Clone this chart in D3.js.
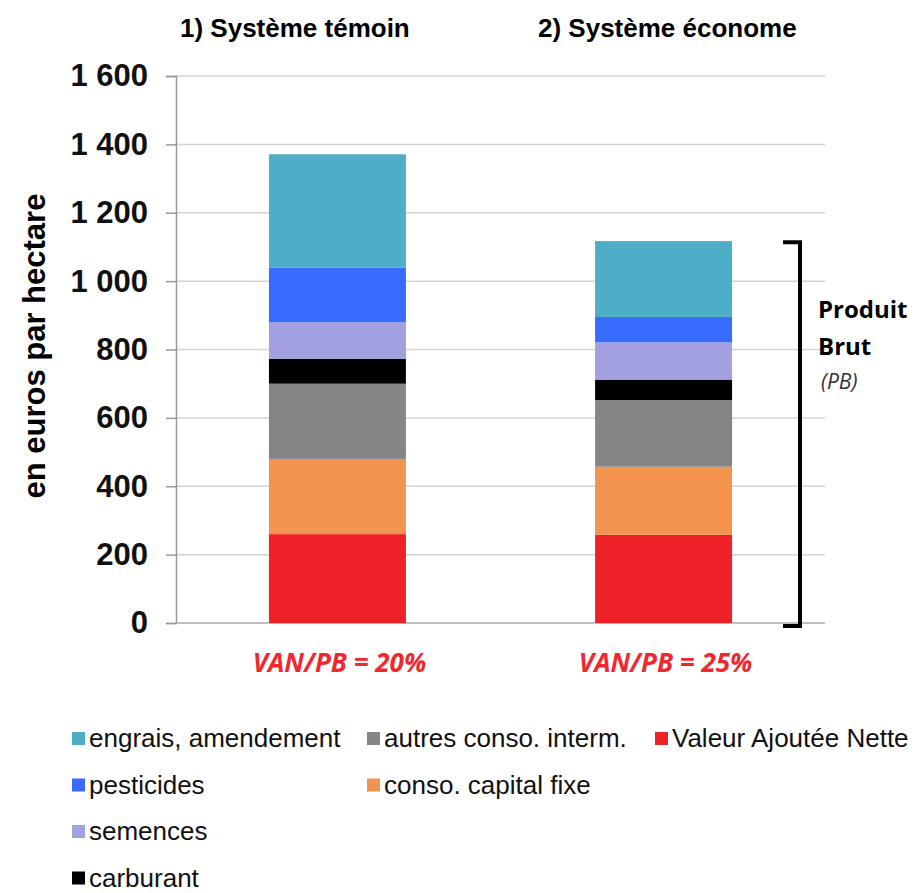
<!DOCTYPE html>
<html>
<head>
<meta charset="utf-8">
<script src="https://cdn.jsdelivr.net/npm/d3@7"></script>
<style>
  body { margin: 0; background: #fff; }
  svg { display: block; }
</style>
</head>
<body>
<div id="chart"></div>
<script>
// donnees (euros / ha)
var systemes = ['1) Système témoin', '2) Système économe']
var postes = ['Valeur Ajoutée Nette', 'conso. capital fixe', 'autres conso. interm.',
              'carburant', 'semences', 'pesticides', 'engrais, amendement']
var temoin = [260, 220, 220, 73, 107, 159, 332]
var econome = [258, 199, 195, 60, 109, 74, 222]
var ratios = ['VAN/PB = 20%', 'VAN/PB = 25%']
var yTicks = [0, 200, 400, 600, 800, 1000, 1200, 1400, 1600]

var couleurs = ['#ee2129', '#f29450', '#858585', '#000000', '#a3a0df', '#3a6bff', '#4eaec7']

var w = 916, h = 893

var svg = d3.select('#chart')
  .append('svg')
  .attr('width', w)
  .attr('height', h)

var y = d3.scaleLinear()
  .domain([0, 1600])
  .range([623, 76])

var x = d3.scaleBand()
  .domain(systemes)
  .range([176, 825])
  .paddingInner(0.58)
  .paddingOuter(0.285)

// grille
svg.append('g')
  .selectAll('line')
  .data(yTicks.slice(1))
  .enter().append('line')
  .attr('x1', 176).attr('x2', 825)
  .attr('y1', function(d) { return y(d) })
  .attr('y2', function(d) { return y(d) })
  .attr('stroke', '#d4d4d4')
  .attr('stroke-width', 1.5)

// axe y
var yAxis = d3.axisLeft(y)
  .tickValues(yTicks)
  .tickSize(10)
  .tickPadding(18)
  .tickFormat(function(d) { return d >= 1000 ? Math.floor(d / 1000) + ' ' + d3.format('03d')(d % 1000) : d })

var gy = svg.append('g')
  .attr('transform', 'translate(176,0)')
  .call(yAxis)
gy.select('.domain').attr('stroke', '#999').attr('stroke-width', 1.5)
gy.selectAll('.tick line').attr('stroke', '#999').attr('stroke-width', 1.5)
gy.selectAll('text')
  .attr('fill', '#111')
  .style('font-family', 'Liberation Sans, Arial, sans-serif')
  .style('font-size', '31px')
  .style('font-weight', 'bold')

// ligne de base
svg.append('line')
  .attr('x1', 176).attr('x2', 825)
  .attr('y1', y(0)).attr('y2', y(0))
  .attr('stroke', '#aaa').attr('stroke-width', 1.5)

// barres empilees
var table = systemes.map(function(s, i) {
  var row = { systeme: s }
  var vals = i === 0 ? temoin : econome
  postes.forEach(function(p, j) { row[p] = vals[j] })
  return row
})
var series = d3.stack().keys(postes)(table)

svg.append('g')
  .selectAll('g')
  .data(series)
  .enter().append('g')
  .attr('fill', function(d, i) { return couleurs[i] })
  .selectAll('rect')
  .data(function(d) { return d })
  .enter().append('rect')
  .attr('x', function(d) { return x(d.data.systeme) })
  .attr('width', x.bandwidth())
  .attr('y', function(d) { return y(d[1]) })
  .attr('height', function(d) { return y(d[0]) - y(d[1]) })

// titres
var titreX = [180, 538]
svg.selectAll('.titre')
  .data(systemes)
  .enter().append('text')
  .attr('class', 'titre')
  .attr('x', function(d, i) { return titreX[i] })
  .attr('y', 37)
  .text(function(d) { return d })
  .style('font-family', 'Liberation Sans, Arial, sans-serif')
  .style('font-size', '26px')
  .style('font-weight', 'bold')

// VAN / PB
svg.selectAll('.ratio')
  .data(ratios)
  .enter().append('text')
  .attr('class', 'ratio')
  .attr('x', function(d, i) { return x(systemes[i]) + x.bandwidth() / 2 + 2 })
  .attr('y', 672)
  .attr('text-anchor', 'middle')
  .attr('fill', '#f0282e')
  .text(function(d) { return d })
  .style('font-family', 'Open Sans, sans-serif')
  .style('font-size', '26px')
  .style('font-weight', 'bold')
  .style('font-style', 'italic')

// titre axe
svg.append('text')
  .attr('transform', 'translate(45,' + y(810) + ') rotate(-90)')
  .attr('text-anchor', 'middle')
  .text('en euros par hectare')
  .style('font-family', 'Liberation Sans, Arial, sans-serif')
  .style('font-size', '31px')
  .style('font-weight', 'bold')

// accolade Produit Brut
var pb = d3.sum(econome)
var bx = 800
svg.append('path')
  .attr('d', 'M' + (bx - 17) + ',' + (y(pb) + 1) + 'H' + bx + 'V' + (y(0) + 3) + 'H' + (bx - 17))
  .attr('fill', 'none')
  .attr('stroke', '#000')
  .attr('stroke-width', 4)

var pbTxt = svg.append('g').style('font-family', 'Open Sans, sans-serif')
pbTxt.append('text').attr('x', 818).attr('y', 318).text('Produit')
  .style('font-size', '24px').style('font-weight', 'bold')
pbTxt.append('text').attr('x', 818).attr('y', 355).text('Brut')
  .style('font-size', '24px').style('font-weight', 'bold')
pbTxt.append('text').attr('x', 821).attr('y', 389).text('(PB)')
  .style('font-size', '21px').style('font-style', 'italic').attr('fill', '#333')

// legende
var legendeOrdre = ['engrais, amendement', 'pesticides', 'semences', 'carburant',
                    'autres conso. interm.', 'conso. capital fixe', 'Valeur Ajoutée Nette']
var legCol = [72, 72, 72, 72, 367, 367, 655]
var legRow = [0, 1, 2, 3, 0, 1, 0]

var leg = svg.append('g')
  .selectAll('g')
  .data(legendeOrdre)
  .enter().append('g')
  .attr('transform', function(d, i) { return 'translate(' + legCol[i] + ',' + (740 + legRow[i] * 46.5) + ')' })

leg.append('rect')
  .attr('x', 0).attr('y', -8)
  .attr('width', 13).attr('height', 13)
  .attr('fill', function(d) { return couleurs[postes.indexOf(d)] })

leg.append('text')
  .attr('x', 17)
  .attr('y', 7)
  .text(function(d) { return d })
  .style('font-family', 'Liberation Sans, Arial, sans-serif')
  .style('font-size', '26px')
  .attr('fill', '#111')
</script>
</body>
</html>
